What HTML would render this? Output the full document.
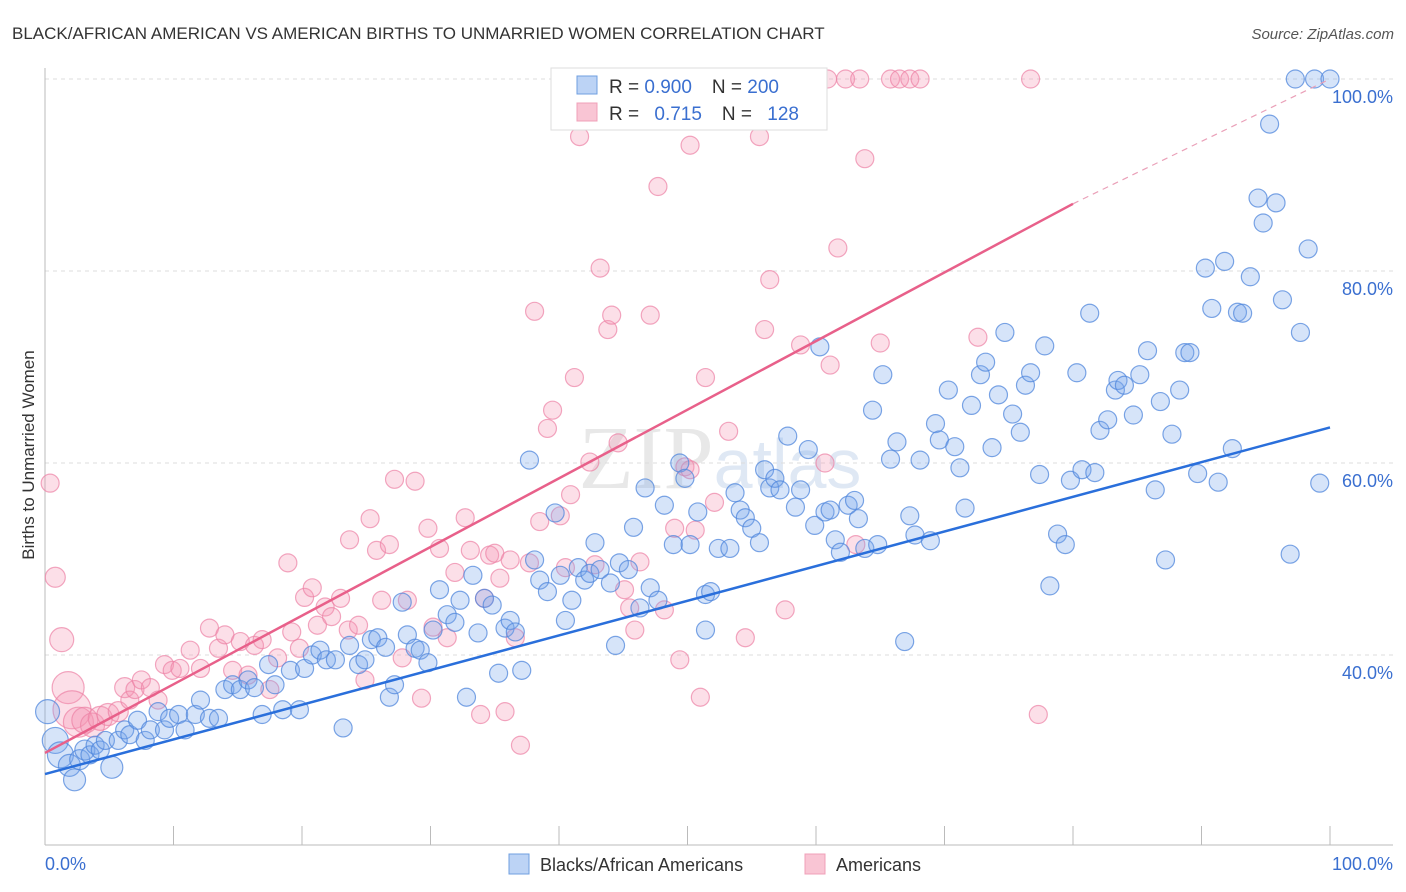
<!DOCTYPE html>
<html><head><meta charset="utf-8"><style>
body{margin:0;background:#fff;font-family:"Liberation Sans",sans-serif;}
svg{display:block}
</style></head><body>
<svg id="chart" width="1406" height="892">
<text x="12" y="39" font-size="17" fill="#333">BLACK/AFRICAN AMERICAN VS AMERICAN BIRTHS TO UNMARRIED WOMEN CORRELATION CHART</text>
<text x="1394" y="39" font-size="15" fill="#555" font-style="italic" text-anchor="end">Source: ZipAtlas.com</text>
<text x="720" y="488" font-size="90" fill="#e8e8e8" text-anchor="middle" font-family="Liberation Serif">ZIP<tspan font-family="Liberation Sans" font-size="70" fill="#dfe8f4">atlas</tspan></text>
<g id="grid"></g>
<g id="axes"></g>
<g id="pts"></g>
<g id="lines"></g>
<text transform="translate(34,455) rotate(-90)" font-size="17" fill="#333" text-anchor="middle">Births to Unmarried Women</text>
<g>
<rect x="551" y="68" width="276" height="62" fill="#fff" stroke="#ddd"/>
<rect x="577" y="76" width="20" height="18" fill="#bcd3f5" stroke="#6f9fe0"/>
<rect x="577" y="103" width="20" height="18" fill="#f9c5d4" stroke="#f0a0b8"/>
<text x="609" y="93" font-size="19" fill="#333">R = <tspan fill="#3a6fd0">0.900</tspan><tspan dx="20">N = </tspan><tspan fill="#3a6fd0">200</tspan></text>
<text x="609" y="120" font-size="19" fill="#333">R = <tspan fill="#3a6fd0" dx="10">0.715</tspan><tspan dx="20">N = </tspan><tspan fill="#3a6fd0" dx="10">128</tspan></text>
</g>
<g>
<rect x="509" y="854" width="20" height="20" fill="#bcd3f5" stroke="#6f9fe0"/>
<text x="540" y="871" font-size="18" fill="#333">Blacks/African Americans</text>
<rect x="805" y="854" width="20" height="20" fill="#f9c5d4" stroke="#f0a0b8"/>
<text x="836" y="871" font-size="18" fill="#333">Americans</text>
</g>
</svg>
<script>
const blueX=[0.2,0.8,1.2,1.9,2.3,2.7,3.1,3.5,3.9,4.3,4.7,5.2,5.7,6.2,6.6,7.2,7.8,8.2,8.8,9.3,9.7,10.4,10.9,11.7,12.1,12.8,13.5,14.0,14.6,15.2,15.8,16.3,16.9,17.4,17.9,18.5,19.1,19.8,20.2,20.8,21.4,21.9,22.6,23.2,23.7,24.4,24.9,25.4,25.9,26.5,26.8,27.2,27.8,28.2,28.8,29.2,29.8,30.2,30.7,31.3,31.9,32.3,32.8,33.3,33.7,34.2,34.8,35.3,35.8,36.2,36.6,37.1,37.7,38.1,38.5,39.1,39.7,40.1,40.5,41.0,41.5,42.0,42.4,42.8,43.2,44.0,44.4,44.7,45.4,45.8,46.3,46.7,47.1,47.7,48.2,48.9,49.4,49.8,50.2,50.8,51.4,51.8,51.4,52.4,53.3,53.7,54.1,54.5,55.0,55.6,56.0,56.4,56.8,57.2,57.8,58.4,58.8,59.4,59.9,60.3,60.7,61.1,61.5,61.9,62.5,63.0,63.3,63.8,64.4,64.8,65.2,65.8,66.3,66.9,67.3,67.7,68.1,68.9,69.3,69.6,70.3,70.8,71.2,71.6,72.1,72.8,73.2,73.7,74.2,74.7,75.3,75.9,76.3,76.7,77.4,77.8,78.2,78.8,79.4,79.8,80.3,80.7,81.3,81.7,82.1,82.7,83.3,83.5,84.0,84.7,85.2,85.8,86.4,86.8,87.2,87.7,88.3,88.7,89.1,89.7,90.3,90.8,91.3,91.8,92.4,92.8,93.2,93.8,94.4,94.8,95.3,95.8,96.3,96.9,97.3,97.7,98.3,98.8,99.2,100];
const blueY=[34.1,31.1,29.6,28.5,27.0,29.1,30.1,29.6,30.6,30.1,31.1,28.3,31.1,32.2,31.7,33.2,31.1,32.2,34.1,32.2,33.4,33.8,32.2,33.8,35.3,33.4,33.4,36.4,36.9,36.4,37.4,36.6,33.8,39.0,36.9,34.3,38.4,34.3,38.6,40.0,40.5,39.5,39.5,32.4,41.0,39.0,39.5,41.6,41.8,40.8,35.6,36.9,45.5,42.1,40.7,40.5,39.2,42.6,46.8,44.2,43.4,45.7,35.6,48.3,42.3,45.9,45.2,38.1,42.8,43.6,42.4,38.4,60.3,49.9,47.8,46.6,54.8,48.3,43.6,45.7,49.1,47.8,48.5,51.7,48.9,47.5,41.0,49.6,48.9,53.3,44.9,57.4,47.0,45.7,55.6,51.5,60.0,58.4,51.5,54.9,46.3,46.6,42.6,51.1,51.1,56.9,55.1,54.3,53.2,51.7,59.3,57.4,58.4,57.2,62.8,55.4,57.2,61.4,53.5,72.1,54.9,55.1,52.0,50.7,55.6,56.1,54.2,51.1,65.5,51.5,69.2,60.4,62.2,41.4,54.5,52.5,60.3,51.9,64.1,62.4,67.6,61.7,59.5,55.3,66.0,69.2,70.5,61.6,67.1,73.6,65.1,63.2,68.1,69.4,58.8,72.2,47.2,52.6,51.5,58.2,69.4,59.3,75.6,59.0,63.4,64.5,67.6,68.6,68.1,65.0,69.2,71.7,57.2,66.4,49.9,63.0,67.6,71.5,71.5,58.9,80.3,76.1,58.0,81.0,61.5,75.7,75.6,79.4,87.6,85.0,95.3,87.1,77.0,50.5,100,73.6,82.3,100,57.9,100];
const blueS=[12,13,13,11,11,10,10,9,9,9,9,11,9,9,9,9,9,9];
const pinkX=[0.4,0.8,1.3,1.8,2.1,2.6,3.1,3.7,4.3,4.9,5.7,6.2,6.6,7.0,7.5,8.2,8.8,9.3,9.9,10.5,11.3,12.1,12.8,13.5,14.0,14.6,15.2,15.8,16.3,16.9,17.5,18.1,18.9,19.2,19.8,20.2,20.8,21.2,21.8,22.3,23.0,23.6,23.7,24.4,24.9,25.3,25.8,26.2,26.8,27.2,27.8,28.2,28.8,29.3,29.8,30.2,30.7,31.3,31.9,32.7,33.1,33.9,34.2,34.6,35.0,35.4,35.8,36.2,36.6,37.0,37.7,38.1,38.5,39.1,39.5,40.1,40.5,40.9,41.2,41.6,42.4,42.8,43.2,43.8,44.1,44.6,45.1,45.5,45.9,46.3,47.1,47.7,48.2,49.0,49.4,49.8,50.2,50.6,51.0,51.4,52.1,52.5,53.2,54.1,54.5,55.3,55.6,56.0,56.4,57.6,58.8,60.9,61.1,61.7,62.3,63.4,63.8,65.0,65.8,66.5,67.3,68.1,76.7,77.3,60.7,50.2,72.6,63.1];
const pinkY=[57.9,48.1,41.6,36.6,34.3,33.0,33.2,32.7,33.4,33.8,34.1,36.6,35.3,36.4,37.4,36.6,35.3,39.0,38.4,38.6,40.5,38.6,42.8,40.7,42.1,38.4,41.4,37.9,41.0,41.6,36.4,39.7,49.6,42.4,40.7,46.0,47.0,43.1,45.0,44.0,45.9,42.6,52.0,43.1,37.4,54.2,50.9,45.7,51.5,58.3,39.7,45.7,58.1,35.5,53.2,42.9,51.1,41.8,48.6,54.3,50.9,33.8,45.9,50.4,50.6,48.0,34.1,49.9,41.8,30.6,49.6,75.8,53.9,63.6,65.5,54.5,49.1,56.7,68.9,94.0,60.1,49.4,80.3,73.9,75.4,62.1,46.8,44.9,42.6,49.7,75.4,88.8,44.7,53.2,39.5,59.6,93.1,53.0,35.6,68.9,55.9,100,63.3,100,41.8,96.8,94.0,73.9,79.1,44.7,72.3,100,70.2,82.4,100,100,91.7,72.5,100,100,100,100,100,33.8,60.0,59.3,73.1,51.5];
const pinkS=[9,10,12,16,19,15,13,12,12,11,10,10,9,9,9];
const yTicks=[40,60,80,100];
const yTickLabels=["40.0%","60.0%","80.0%","100.0%"];
const blueLine=[[0,27.6],[100,63.7]];
const pinkLine=[[0,29.8],[80,87.0],[100,100]];
const X0=45,X1=1330,YTOP=79,PXPER=9.6;
const sx=v=>X0+(X1-X0)*v/100;
const sy=v=>YTOP+(100-v)*PXPER;
const NS="http://www.w3.org/2000/svg";
function mk(tag,parent,attrs){const e=document.createElementNS(NS,tag);for(const k in attrs)e.setAttribute(k,attrs[k]);parent.appendChild(e);return e;}
const grid=document.getElementById('grid'),axes=document.getElementById('axes'),pts=document.getElementById('pts'),lines=document.getElementById('lines');
yTicks.forEach((t,i)=>{
 const l=mk('line',grid,{x1:45,x2:1393,y1:sy(t),y2:sy(t),stroke:'#ddd','stroke-dasharray':'4,4'});
 
 
 const tx=mk('text',grid,{x:1393,y:sy(t)+24,'font-size':18,fill:'#3a6fd0','text-anchor':'end'});
 tx.textContent=yTickLabels[i];
 
 
});
mk('line',axes,{x1:45,x2:45,y1:68,y2:845,stroke:'#bbb'});
mk('line',axes,{x1:45,x2:1393,y1:845,y2:845,stroke:'#bbb'});
for(let i=1;i<=10;i++){const t=mk('line',axes,{x1:sx(i*10),x2:sx(i*10),y1:826,y2:845,stroke:'#bbb'});
 
 }
const xl=mk('text',axes,{x:45,y:870,'font-size':18,fill:'#3a6fd0'});xl.textContent='0.0%';


const xr=mk('text',axes,{x:1393,y:870,'font-size':18,fill:'#3a6fd0','text-anchor':'end'});xr.textContent='100.0%';


pinkX.forEach((x,i)=>{const c=mk('circle',pts,{cx:sx(x),cy:sy(pinkY[i]),r:pinkS[i]||9,fill:'rgba(244,150,178,0.3)',stroke:'rgba(236,130,165,0.7)','stroke-width':1.2});
 
 });
blueX.forEach((x,i)=>{const c=mk('circle',pts,{cx:sx(x),cy:sy(blueY[i]),r:blueS[i]||9,fill:'rgba(120,165,235,0.3)',stroke:'rgba(80,135,220,0.75)','stroke-width':1.2});
 
 });
const bl=mk('line',lines,{x1:sx(blueLine[0][0]),y1:sy(blueLine[0][1]),x2:sx(blueLine[1][0]),y2:sy(blueLine[1][1]),stroke:'#2a6fdb','stroke-width':2.5});


const pl=mk('line',lines,{x1:sx(pinkLine[0][0]),y1:sy(pinkLine[0][1]),x2:sx(pinkLine[1][0]),y2:sy(pinkLine[1][1]),stroke:'#e8608a','stroke-width':2.5});


const pd=mk('line',lines,{x1:sx(pinkLine[1][0]),y1:sy(pinkLine[1][1]),x2:sx(pinkLine[2][0]),y2:sy(pinkLine[2][1]),stroke:'#eaa0b8','stroke-width':1.2,'stroke-dasharray':'6,5'});


</script>
</body></html>
